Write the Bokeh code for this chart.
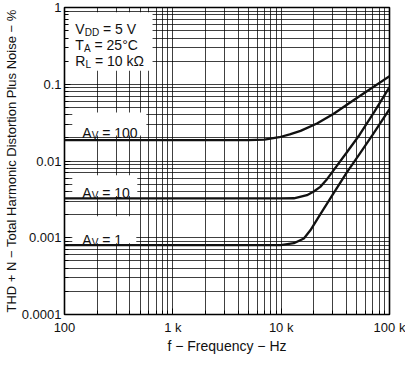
from bokeh.plotting import figure
from bokeh.models import Range1d, FixedTicker, Label
from bokeh.embed import file_html
from bokeh.resources import INLINE

# ---------------- data ----------------
freq_av100 = [100, 1000, 5000, 7000, 9600, 12000, 15100, 21400, 30300, 43000, 60900, 100000]
thd_av100 = [0.0187, 0.0187, 0.0187, 0.0190, 0.0204, 0.0222, 0.0247, 0.0308, 0.0410, 0.0573, 0.0800, 0.127]

freq_av10 = [100, 1000, 10000, 13100, 17300, 20000, 22950, 26000, 30300, 40100, 53000, 72600, 100000]
thd_av10 = [0.00325, 0.00325, 0.00325, 0.00327, 0.00358, 0.00400, 0.00460, 0.00560, 0.00750, 0.0128, 0.0220, 0.0440, 0.0920]

freq_av1 = [100, 1000, 9930, 13100, 16200, 18600, 22950, 30300, 40100, 53000, 70000, 100000]
thd_av1 = [0.00080, 0.00080, 0.00080, 0.00085, 0.00098, 0.00125, 0.00202, 0.00375, 0.00700, 0.0124, 0.0220, 0.0474]

x_major = [100, 1000, 10000, 100000]
x_labels = ["100", "1 k", "10 k", "100 k"]
y_major = [0.0001, 0.001, 0.01, 0.1, 1]
y_labels = ["0.0001", "0.001", "0.01", "0.1", "1"]
mults = [2, 3, 4, 5, 6, 7, 8, 9]
x_minor = [round(m * d) for d in [100, 1000, 10000] for m in mults]
y_minor = [float(f"{m * d:.6g}") for d in [0.0001, 0.001, 0.01, 0.1] for m in mults]

FONT = "Liberation Sans"
TXT = "#111111"

p = figure(width=405, height=356, x_axis_type="log", y_axis_type="log",
           x_range=Range1d(100, 100000), y_range=Range1d(0.0001, 1),
           output_backend="svg", toolbar_location=None,
           min_border_left=59, min_border_right=16, min_border_top=7, min_border_bottom=36,
           background_fill_color="white", border_fill_color="white")

p.outline_line_color = "black"
p.outline_line_width = 1.6

for ax, ticks, minor, labels in [(p.xaxis[0], x_major, x_minor, x_labels),
                                 (p.yaxis[0], y_major, y_minor, y_labels)]:
    ax.ticker = FixedTicker(ticks=ticks, minor_ticks=minor)
    ax.major_label_overrides = {t: l for t, l in zip(ticks, labels)}
    ax.axis_line_color = None
    ax.major_tick_in = 6
    ax.major_tick_out = 0
    ax.minor_tick_in = 4
    ax.minor_tick_out = 0
    ax.major_tick_line_color = "black"
    ax.minor_tick_line_color = "black"
    ax.major_label_text_font = FONT
    ax.major_label_text_font_size = "13px"
    ax.major_label_text_color = TXT
    ax.axis_label_text_font = FONT
    ax.axis_label_text_font_style = "normal"
    ax.axis_label_text_color = TXT

p.xaxis.axis_label = "f \u2212 Frequency \u2212 Hz"
p.yaxis.axis_label = "THD + N \u2212 Total Harmonic Distortion Plus Noise \u2212 %"
p.xaxis.axis_label_text_font_size = "14px"
p.yaxis.axis_label_text_font_size = "13px"
p.xaxis.major_label_standoff = 5
p.xaxis.axis_label_standoff = 0
p.yaxis.major_label_standoff = 3
p.yaxis.axis_label_standoff = 0

for g in (p.xgrid[0], p.ygrid[0]):
    g.level = "underlay"
    g.grid_line_color = "black"
    g.grid_line_alpha = 0.75
    g.grid_line_width = 1
    g.minor_grid_line_color = "black"
    g.minor_grid_line_alpha = 0.75
    g.minor_grid_line_width = 1

# white boxes behind the annotations (left, right in Hz; bottom, top in %)
box_left = [108, 118, 118, 118]
box_right = [650, 570, 470, 460]
box_bottom = [0.15, 0.0215, 0.0035, 0.00085]
box_top = [0.866, 0.043, 0.0065, 0.0019]
p.quad(left=box_left, right=box_right, bottom=box_bottom, top=box_top,
       fill_color="white", fill_alpha=1, line_color=None)

for fx, fy in [(freq_av100, thd_av100), (freq_av10, thd_av10), (freq_av1, thd_av1)]:
    p.line(fx, fy, line_color="#111111", line_width=2.3)

# text with subscripts
W = {'V': .667, 'D': .722, 'A': .667, 'T': .611, 'R': .722, 'L': .556, ' ': .278,
     '=': .584, '\u00b0': .4, 'C': .722, 'k': .5, '\u03a9': .768}
def tw(s, size):
    return sum(W.get(c, .556) for c in s) * size

def rich(parts, fx, fy):
    x = 0.0
    for txt, size, dy in parts:
        lead = len(txt) - len(txt.lstrip(" "))
        x += lead * W[' '] * size
        t = txt.strip(" ")
        p.add_layout(Label(x=fx, y=fy, x_offset=x, y_offset=-dy, text=t,
                           text_font=FONT, text_font_size=f"{size}px", text_color=TXT,
                           text_baseline="alphabetic", text_align="left"))
        x += tw(t, size)

MAIN, SUB, SDY = 14, 10, 3
rich([("V", MAIN, 0), ("DD", SUB, SDY), (" = 5 V", MAIN, 0)], 126, 0.517)
rich([("T", MAIN, 0), ("A", SUB, SDY), (" = 25\u00b0C", MAIN, 0)], 126, 0.320)
rich([("R", MAIN, 0), ("L", SUB, SDY), (" = 10 k\u03a9", MAIN, 0)], 126, 0.199)
rich([("A", MAIN, 0), ("V", SUB, SDY), (" = 100", MAIN, 0)], 146, 0.0233)
rich([("A", MAIN, 0), ("V", SUB, SDY), (" = 10", MAIN, 0)], 146, 0.00383)
rich([("A", MAIN, 0), ("V", SUB, SDY), (" = 1", MAIN, 0)], 146, 0.000937)

open("out.html", "w").write(file_html(p, INLINE))
